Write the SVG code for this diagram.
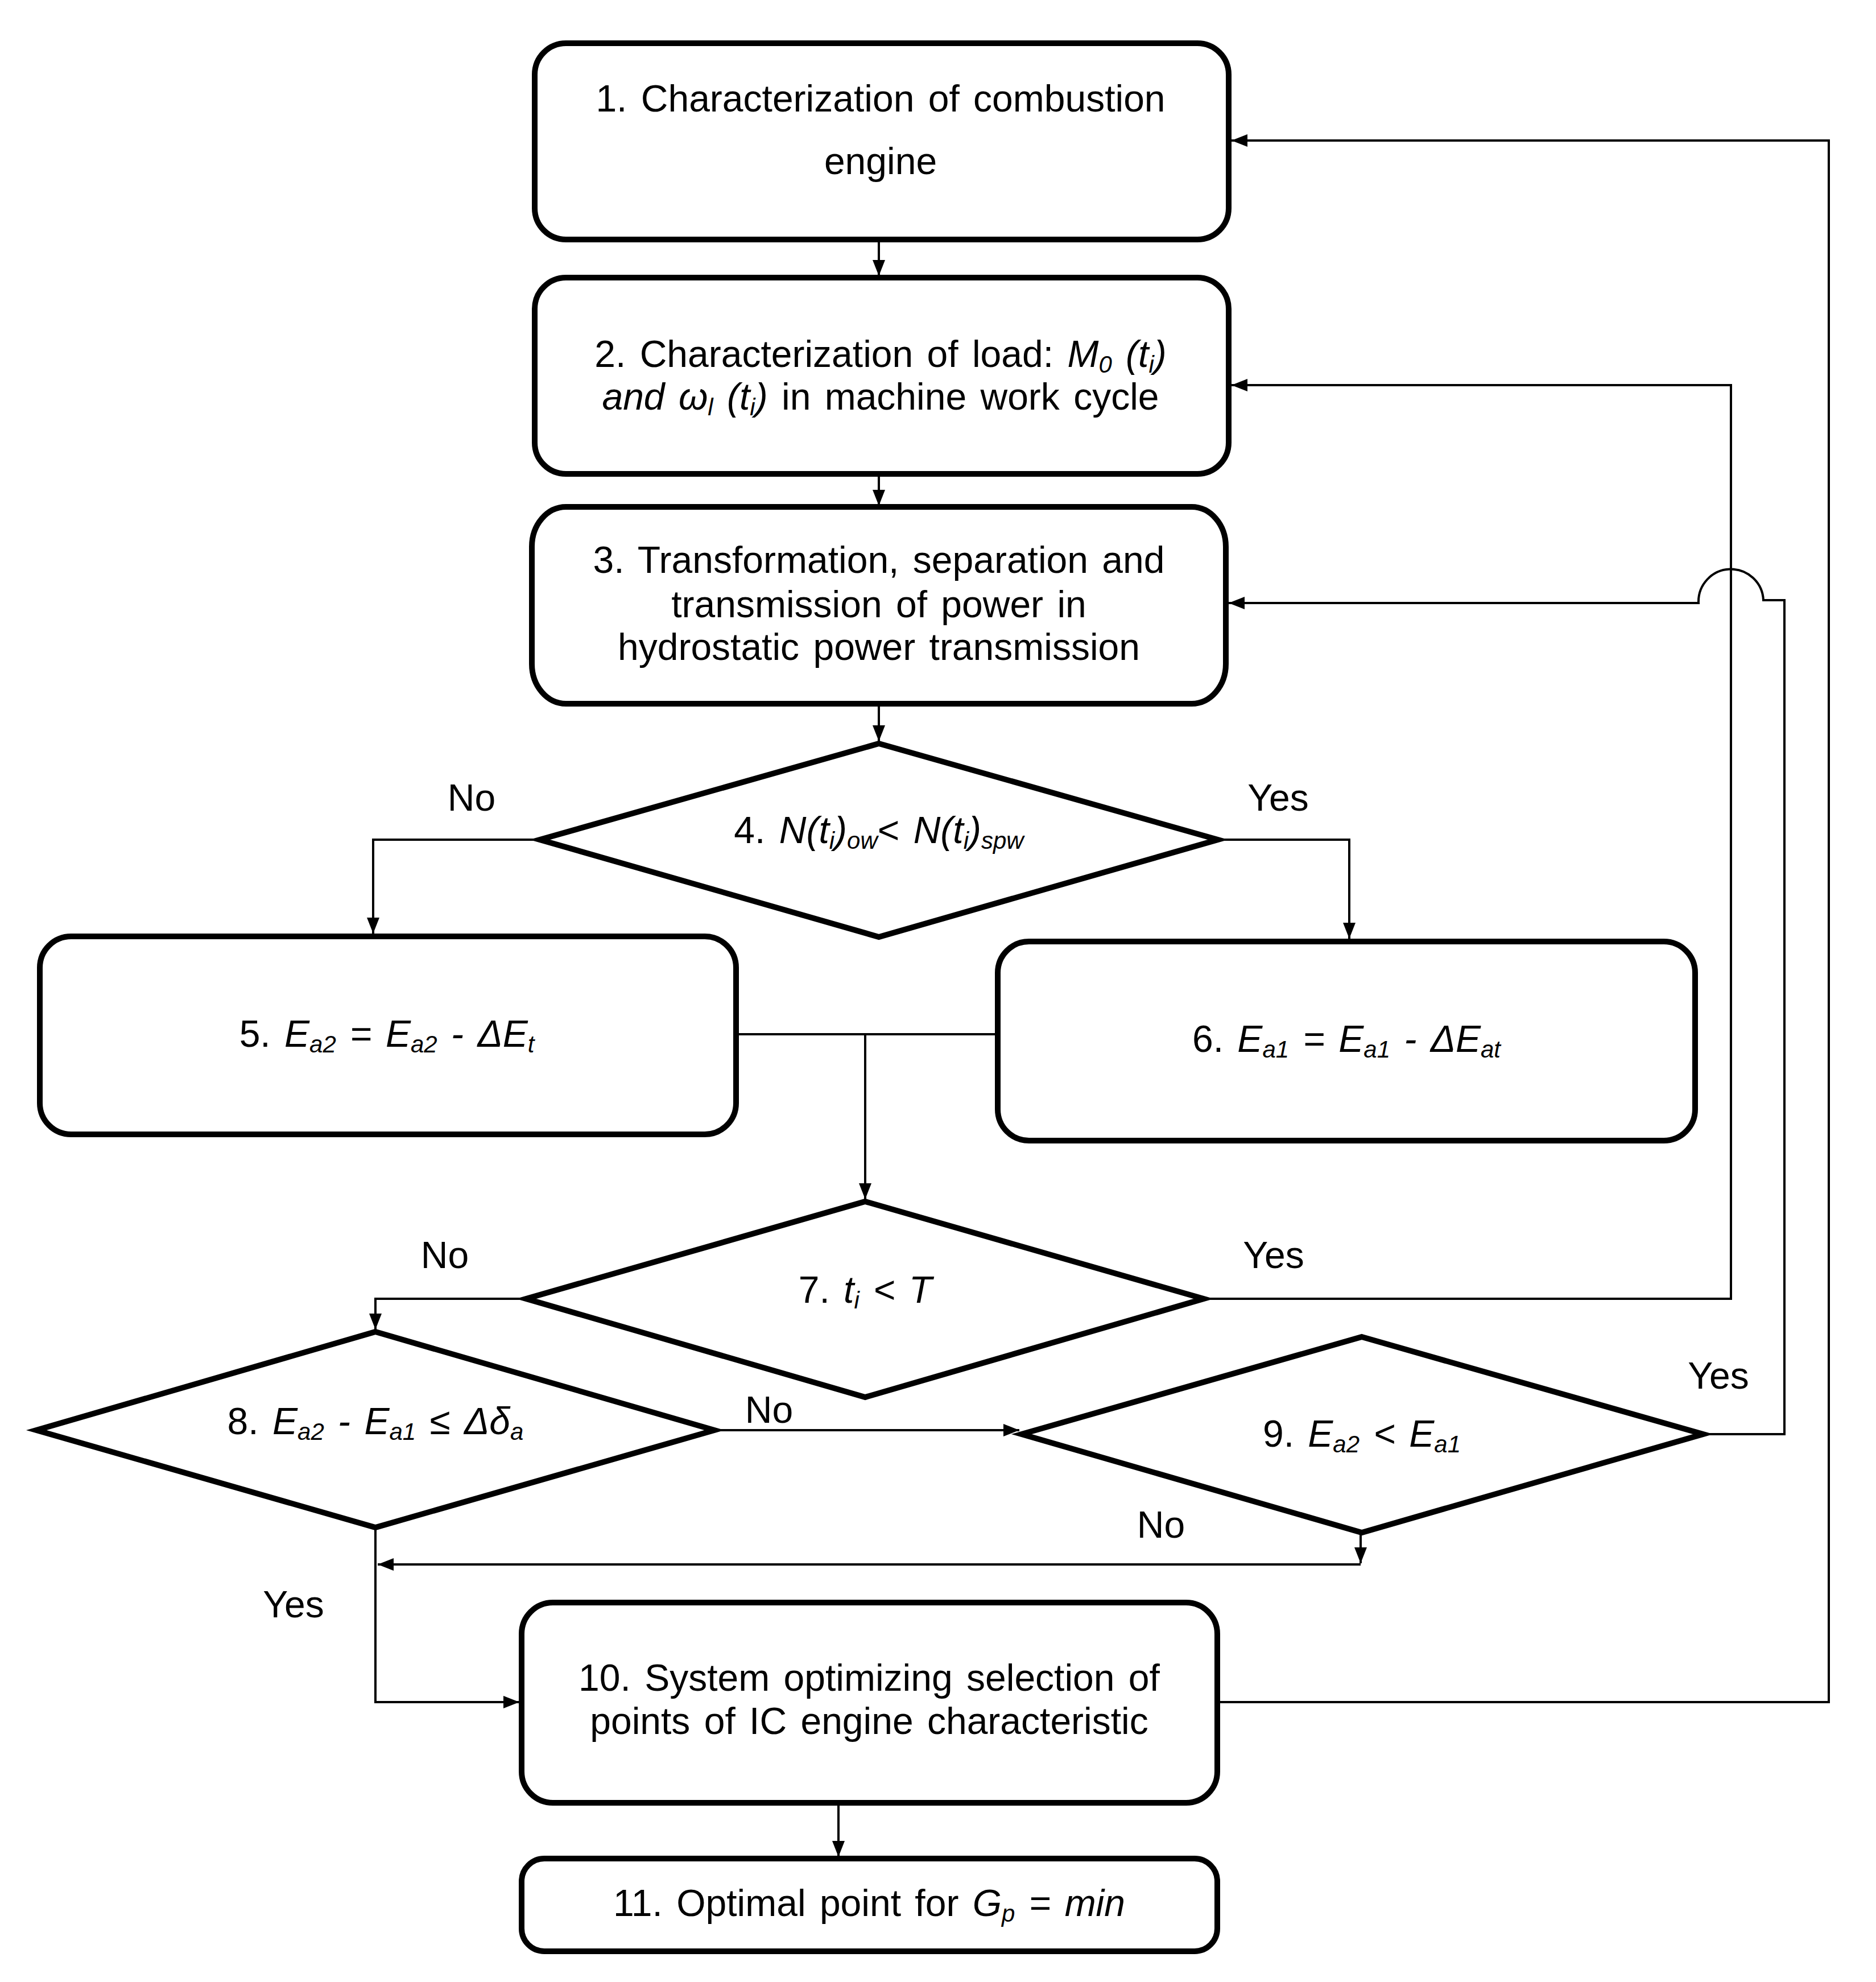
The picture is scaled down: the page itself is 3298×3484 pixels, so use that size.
<svg xmlns="http://www.w3.org/2000/svg" width="3298" height="3484" viewBox="0 0 3298 3484">
<style>
.box{fill:#fff;stroke:#000;stroke-width:10}
.dia{fill:#fff;stroke:#000;stroke-width:10;stroke-linejoin:miter}
.con{fill:none;stroke:#000;stroke-width:4}
text{font-family:"Liberation Sans",Arial,sans-serif;font-size:66px;fill:#000;word-spacing:6px}
.t{text-anchor:middle}
.i{font-style:italic}
.s{font-size:42px}
</style>
<defs>
<marker id="ah" viewBox="0 0 28 22" refX="28" refY="11" markerWidth="28" markerHeight="22" markerUnits="userSpaceOnUse" orient="auto">
<path d="M0,0 L28,11 L0,22 Z" fill="#000"/>
</marker>
</defs>
<rect width="3298" height="3484" fill="#fff"/>

<g id="connectors">
<path class="con" d="M1545 422 V485" marker-end="url(#ah)"/>
<path class="con" d="M1545 834 V889" marker-end="url(#ah)"/>
<path class="con" d="M1545 1238 V1303" marker-end="url(#ah)"/>
<path class="con" d="M949 1476 H656 V1641" marker-end="url(#ah)"/>
<path class="con" d="M2141 1476 H2372 V1650" marker-end="url(#ah)"/>
<path class="con" d="M1294 1818 H1754"/>
<path class="con" d="M1521 1818 V2108" marker-end="url(#ah)"/>
<path class="con" d="M925 2283 H660 V2337" marker-end="url(#ah)"/>
<path class="con" d="M2116 2283 H3043 V677 H2165" marker-end="url(#ah)"/>
<path class="con" d="M1256 2514 H1792" marker-end="url(#ah)"/>
<path class="con" d="M2994 2521 H3137 V1055 H3100 A57 57 0 0 0 2986 1060 H2160" marker-end="url(#ah)"/>
<path class="con" d="M2392 2694 V2748" marker-end="url(#ah)"/>
<path class="con" d="M2392 2750 H664" marker-end="url(#ah)"/>
<path class="con" d="M660 2685 V2992 H913" marker-end="url(#ah)"/>
<path class="con" d="M2140 2992 H3215 V247 H2165" marker-end="url(#ah)"/>
<path class="con" d="M1474 3169 V3264" marker-end="url(#ah)"/>
</g>

<g id="n1">
<rect class="box" x="940" y="76" width="1220" height="345" rx="55" ry="55"/>
<text class="t" x="1548" y="196">1. Characterization of combustion</text>
<text class="t" x="1548" y="306">engine</text>
</g>

<g id="n2">
<rect class="box" x="940" y="488" width="1220" height="345" rx="55" ry="55"/>
<text class="t" x="1548" y="645">2. Characterization of load: <tspan class="i">M</tspan><tspan class="i s" dy="10">0</tspan><tspan class="i" dy="-10"> (t</tspan><tspan class="i s" dy="10">i</tspan><tspan class="i" dy="-10">)</tspan></text>
<text class="t" x="1548" y="720"><tspan class="i">and ω</tspan><tspan class="i s" dy="10">l</tspan><tspan class="i" dy="-10"> (t</tspan><tspan class="i s" dy="10">i</tspan><tspan class="i" dy="-10">)</tspan> in machine work cycle</text>
</g>

<g id="n3">
<rect class="box" x="935" y="891" width="1220" height="346" rx="60" ry="70"/>
<text class="t" x="1545" y="1007">3. Transformation, separation and</text>
<text class="t" x="1545" y="1085">transmission of power in</text>
<text class="t" x="1545" y="1160">hydrostatic power transmission</text>
</g>

<g id="n4">
<polygon class="dia" points="1545,1307 2141,1476 1545,1647 949,1476"/>
<text class="t" x="1545" y="1482">4. <tspan class="i">N(t</tspan><tspan class="i s" dy="10">i</tspan><tspan class="i" dy="-10">)</tspan><tspan class="i s" dy="10">ow</tspan><tspan dy="-10">&lt; </tspan><tspan class="i">N(t</tspan><tspan class="i s" dy="10">i</tspan><tspan class="i" dy="-10">)</tspan><tspan class="i s" dy="10">spw</tspan></text>
</g>

<g id="n5">
<rect class="box" x="70" y="1646" width="1224" height="348" rx="55" ry="55"/>
<text class="t" x="680" y="1840">5. <tspan class="i">E</tspan><tspan class="i s" dy="10">a2</tspan><tspan class="i" dy="-10"> = E</tspan><tspan class="i s" dy="10">a2</tspan><tspan class="i" dy="-10"> - ΔE</tspan><tspan class="i s" dy="10">t</tspan></text>
</g>

<g id="n6">
<rect class="box" x="1754" y="1655" width="1226" height="350" rx="55" ry="55"/>
<text class="t" x="2367" y="1849">6. <tspan class="i">E</tspan><tspan class="i s" dy="10">a1</tspan><tspan class="i" dy="-10"> = E</tspan><tspan class="i s" dy="10">a1</tspan><tspan class="i" dy="-10"> - ΔE</tspan><tspan class="i s" dy="10">at</tspan></text>
</g>

<g id="n7">
<polygon class="dia" points="1521,2112 2116,2283 1521,2456 925,2283"/>
<text class="t" x="1521" y="2290">7. <tspan class="i">t</tspan><tspan class="i s" dy="10">i</tspan><tspan class="i" dy="-10"> &lt; T</tspan></text>
</g>

<g id="n8">
<polygon class="dia" points="660,2341 1256,2514 660,2685 64,2514"/>
<text class="t" x="660" y="2521">8. <tspan class="i">E</tspan><tspan class="i s" dy="10">a2</tspan><tspan class="i" dy="-10"> - E</tspan><tspan class="i s" dy="10">a1</tspan><tspan class="i" dy="-10"> ≤ Δδ</tspan><tspan class="i s" dy="10">a</tspan></text>
</g>

<g id="n9">
<polygon class="dia" points="2394,2350 2994,2521 2394,2694 1796,2521"/>
<text class="t" x="2394" y="2543">9. <tspan class="i">E</tspan><tspan class="i s" dy="10">a2</tspan><tspan class="i" dy="-10"> &lt; E</tspan><tspan class="i s" dy="10">a1</tspan></text>
</g>

<g id="n10">
<rect class="box" x="917" y="2817" width="1223" height="352" rx="55" ry="55"/>
<text class="t" x="1528" y="2972">10. System optimizing selection of</text>
<text class="t" x="1528" y="3048">points of IC engine characteristic</text>
</g>

<g id="n11">
<rect class="box" x="917" y="3267" width="1223" height="163" rx="40" ry="40"/>
<text class="t" x="1528" y="3368">11. Optimal point for <tspan class="i">G</tspan><tspan class="i s" dy="10">p</tspan><tspan class="i" dy="-10"> = min</tspan></text>
</g>

<g id="labels">
<text class="t" x="829" y="1425">No</text>
<text class="t" x="2247" y="1425">Yes</text>
<text class="t" x="782" y="2229">No</text>
<text class="t" x="2239" y="2229">Yes</text>
<text class="t" x="1352" y="2501">No</text>
<text class="t" x="3021" y="2441">Yes</text>
<text class="t" x="2041" y="2703">No</text>
<text class="t" x="516" y="2843">Yes</text>
</g>
</svg>
